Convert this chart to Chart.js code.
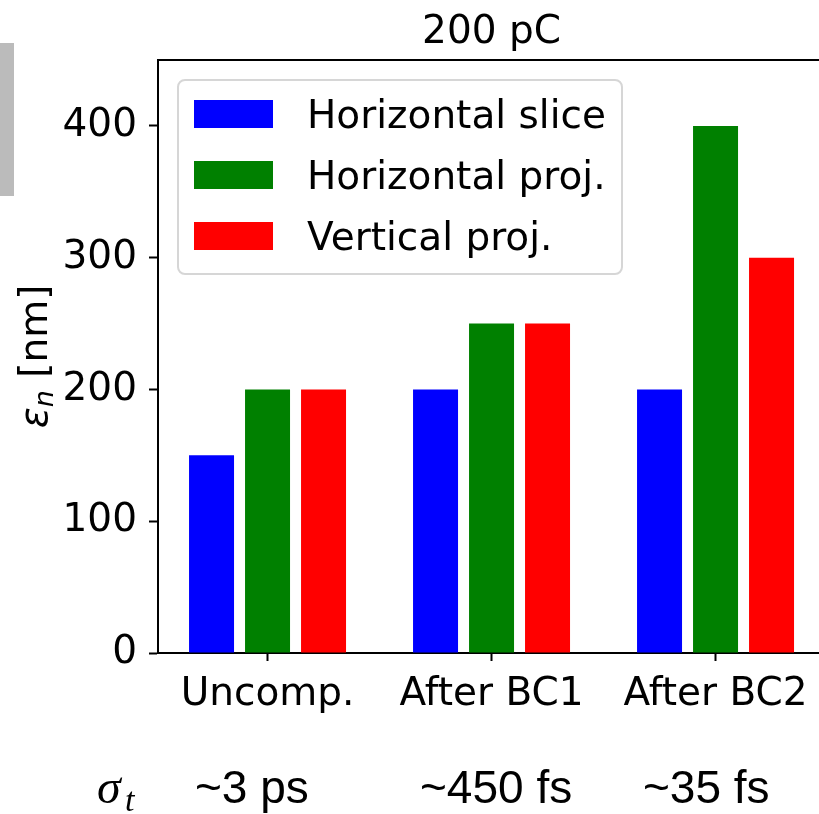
<!DOCTYPE html>
<html>
<head>
<meta charset="utf-8">
<script src="https://cdn.jsdelivr.net/npm/chart.js@4.4.1/dist/chart.umd.min.js"></script>
<style>
  html, body { margin: 0; padding: 0; overflow: hidden; background: #fff; width: 819px; height: 814px; }
  #wrap { position: absolute; left: 0; top: 0; width: 830px; height: 814px; }
</style>
</head>
<body>
<div id="wrap"><canvas id="c" width="830" height="814"></canvas></div>
<script>
// Compression stages and the emittance values (nm) at each stage
const categories = ['Uncomp.', 'After BC1', 'After BC2'];
const bunchLengths = ['~3 ps', '~450 fs', '~35 fs'];
const horizontalSlice = [150, 200, 200];
const horizontalProj = [200, 250, 400];
const verticalProj = [200, 250, 300];
const yTicks = [0, 100, 200, 300, 400];
const chargeTitle = '200 pC';

const seriesNames = ['Horizontal slice', 'Horizontal proj.', 'Vertical proj.'];
const seriesColors = ['#0000ff', '#008000', '#ff0000'];

const toPoints = vals => vals.map((v, i) => ({ x: i, y: v }));

const FONT = '"DejaVu Sans"';
const FS = 39;

function roundRectPath(ctx, x, y, w, h, r) {
  ctx.beginPath();
  ctx.moveTo(x + r, y);
  ctx.lineTo(x + w - r, y);
  ctx.arcTo(x + w, y, x + w, y + r, r);
  ctx.lineTo(x + w, y + h - r);
  ctx.arcTo(x + w, y + h, x + w - r, y + h, r);
  ctx.lineTo(x + r, y + h);
  ctx.arcTo(x, y + h, x, y + h - r, r);
  ctx.lineTo(x, y + r);
  ctx.arcTo(x, y, x + r, y, r);
  ctx.closePath();
}

// Frame, title, axis label, legend and bunch-length row
const decorations = {
  id: 'decorations',
  afterDraw(chart) {
    const ctx = chart.ctx;
    const a = chart.chartArea;
    const xs = chart.scales.x;
    ctx.save();

    // grey strip on the left edge
    ctx.fillStyle = '#bbbbbb';
    ctx.fillRect(0, 43, 14, 153);

    // top spine
    ctx.strokeStyle = '#000';
    ctx.lineWidth = 2;
    ctx.beginPath();
    ctx.moveTo(a.left - 1, a.top);
    ctx.lineTo(a.right, a.top);
    ctx.stroke();

    // title
    ctx.fillStyle = '#000';
    ctx.font = FS + 'px ' + FONT;
    ctx.textAlign = 'center';
    ctx.textBaseline = 'alphabetic';
    ctx.fillText(chargeTitle, xs.getPixelForValue(1), 43);

    // y axis label: epsilon_n [nm], rotated
    ctx.save();
    ctx.translate(47, (a.top + a.bottom) / 2);
    ctx.rotate(-Math.PI / 2);
    ctx.textAlign = 'left';
    const fEps = 'italic ' + FS + 'px ' + FONT;
    const fSub = 'italic 27px ' + FONT;
    const fTxt = FS + 'px ' + FONT;
    ctx.font = fEps; const wEps = ctx.measureText('\u03b5').width;
    ctx.font = fSub; const wSub = ctx.measureText('n').width;
    ctx.font = fTxt; const wTxt = ctx.measureText(' [nm]').width;
    let lx = -(wEps + wSub + wTxt) / 2;
    ctx.font = fEps; ctx.fillText('\u03b5', lx, 0); lx += wEps;
    ctx.font = fSub; ctx.fillText('n', lx, 6); lx += wSub;
    ctx.font = fTxt; ctx.fillText(' [nm]', lx, 0);
    ctx.restore();

    // legend
    const lgX = 178, lgY = 80, lgW = 444, lgH = 194;
    roundRectPath(ctx, lgX, lgY, lgW, lgH, 7);
    ctx.fillStyle = 'rgba(255,255,255,0.85)';
    ctx.fill();
    ctx.strokeStyle = '#d6d6d6';
    ctx.lineWidth = 2;
    ctx.stroke();
    ctx.font = FS + 'px ' + FONT;
    ctx.textAlign = 'left';
    chart.data.datasets.forEach((ds, i) => {
      const cy = 114 + i * 61;
      ctx.fillStyle = ds.backgroundColor;
      ctx.fillRect(194, cy - 14, 79, 28);
      ctx.fillStyle = '#000';
      ctx.fillText(ds.label, 307, cy + 14);
    });

    // bunch-length row
    ctx.fillStyle = '#000';
    ctx.font = 'italic 48px "Liberation Serif"';
    ctx.fillText('\u03c3', 97, 803);
    ctx.font = 'italic 34px "Liberation Serif"';
    ctx.fillText('t', 125, 811);
    ctx.font = '46px "Liberation Sans"';
    const rowX = [195, 420, 643];
    bunchLengths.forEach((t, i) => ctx.fillText(t, rowX[i], 803));

    ctx.restore();
  }
};

new Chart(document.getElementById('c'), {
  type: 'bar',
  data: {
    datasets: [
      { label: seriesNames[0], data: toPoints(horizontalSlice), backgroundColor: seriesColors[0] },
      { label: seriesNames[1], data: toPoints(horizontalProj), backgroundColor: seriesColors[1] },
      { label: seriesNames[2], data: toPoints(verticalProj), backgroundColor: seriesColors[2] }
    ]
  },
  options: {
    responsive: false,
    animation: false,
    devicePixelRatio: 1,
    layout: { padding: { top: 60, left: 0, right: 0, bottom: 0 } },
    plugins: { legend: { display: false }, tooltip: { enabled: false }, title: { display: false } },
    datasets: { bar: { categoryPercentage: 0.75, barPercentage: 0.8036, borderWidth: 0 } },
    scales: {
      x: {
        type: 'linear',
        position: 'bottom',
        offset: false,
        min: -0.489,
        max: 2.511,
        z: 1,
        grid: { offset: false, drawOnChartArea: false, drawTicks: true, tickLength: 8, tickWidth: 2, tickColor: '#000' },
        border: { display: true, color: '#000', width: 2 },
        ticks: {
          font: { family: FONT, size: FS },
          color: '#000',
          padding: 10,
          maxRotation: 0,
          autoSkip: false,
          callback: v => categories[v] ?? ''
        },
        afterBuildTicks: s => { s.ticks = categories.map((_, i) => ({ value: i })); },
        afterFit: s => { s.height = 161; }
      },
      y: {
        min: 0,
        max: 450,
        z: 1,
        grid: { drawOnChartArea: false, drawTicks: true, tickLength: 9, tickWidth: 2, tickColor: '#000' },
        border: { display: true, color: '#000', width: 2 },
        ticks: { font: { family: FONT, size: FS }, color: '#000', padding: 12 },
        afterBuildTicks: s => { s.ticks = yTicks.map(v => ({ value: v })); },
        afterFit: s => { s.width = 158; }
      }
    }
  },
  plugins: [decorations]
});
</script>
</body>
</html>
